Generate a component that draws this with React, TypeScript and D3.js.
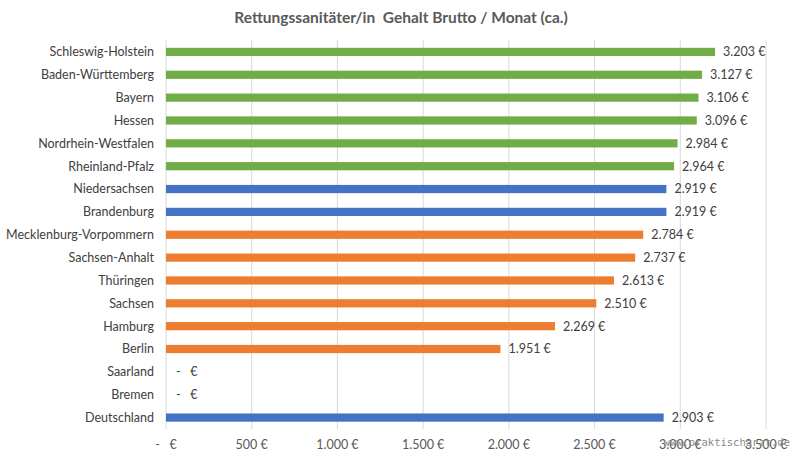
import React from "react";
import * as d3 from "d3";

const categories = [
  "Schleswig-Holstein", "Baden-Württemberg", "Bayern", "Hessen", "Nordrhein-Westfalen",
  "Rheinland-Pfalz", "Niedersachsen", "Brandenburg", "Mecklenburg-Vorpommern", "Sachsen-Anhalt",
  "Thüringen", "Sachsen", "Hamburg", "Berlin", "Saarland", "Bremen", "Deutschland",
];
const values = [3203, 3127, 3106, 3096, 2984, 2964, 2919, 2919, 2784, 2737, 2613, 2510, 2269, 1951, 0, 0, 2903];
const groups = ["g", "g", "g", "g", "g", "g", "b", "b", "o", "o", "o", "o", "o", "o", "o", "o", "b"];
const ticks = [0, 500, 1000, 1500, 2000, 2500, 3000, 3500];

const colors: Record<string, string> = { g: "#70AD47", b: "#4472C4", o: "#ED7D31" };

const fmt = (v: number) => (v === 0 ? "-   €" : d3.format(",")(v).replace(/,/g, ".") + " €");

export default function App() {
  const W = 800, H = 457;
  const x = d3.scaleLinear().domain([0, 3500]).range([166, 766]);
  const y = d3.scaleBand().domain(categories).range([40.5, 429]).paddingInner(0.64).paddingOuter(0.32);
  const font = "Lato, 'Open Sans', sans-serif";
  const pre = { whiteSpace: "pre" as const };
  return (
    <svg width={W} height={H} style={{ position: "absolute", left: 0, top: 0, background: "#fff" }}>
      <text x={401} y={23} textAnchor="middle" fontFamily={font} fontWeight="bold" fontSize={15.5} fill="#595959" style={pre}>
        Rettungssanitäter/in  Gehalt Brutto / Monat (ca.)
      </text>
      {ticks.map((t) => (
        <line key={t} x1={x(t)} x2={x(t)} y1={40} y2={429} stroke="#D9D9D9" strokeWidth={1} />
      ))}
      {categories.map((c, i) => (
        <g key={c}>
          <rect x={x(0)} y={y(c)!} width={x(values[i]) - x(0)} height={y.bandwidth()} fill={colors[groups[i]]} />
          <text x={154} y={y(c)! + y.bandwidth() / 2} dy="0.35em" textAnchor="end" fontFamily={font} fontSize={12.5} fill="#404040">
            {c}
          </text>
          <text x={x(values[i]) + (values[i] === 0 ? 10 : 8)} y={y(c)! + y.bandwidth() / 2} dy="0.35em" fontFamily={font} fontSize={12.5} fill="#404040" style={pre}>
            {fmt(values[i])}
          </text>
        </g>
      ))}
      {ticks.map((t) => (
        <text key={"l" + t} x={x(t)} y={445} dy="0.35em" textAnchor="middle" fontFamily={font} fontSize={12.5} fill="#595959" style={pre}>
          {fmt(t)}
        </text>
      ))}
      <text x={790} y={442} dy="0.35em" textAnchor="end" fontFamily="'DejaVu Sans Mono', monospace" fontSize={10.5} fill="#8a8a8a">
        www.praktischarzt.de
      </text>
    </svg>
  );
}
